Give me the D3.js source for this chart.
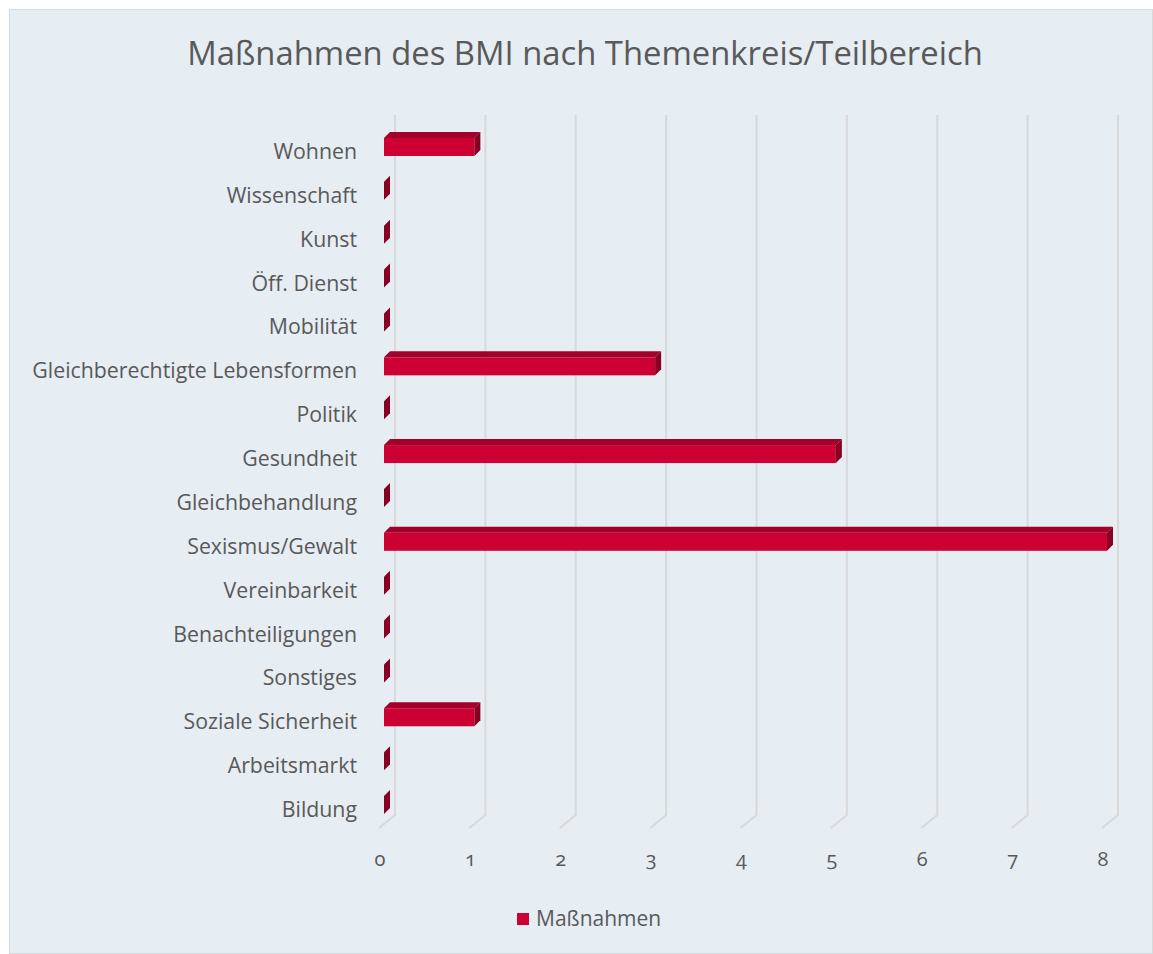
<!DOCTYPE html>
<html>
<head>
<meta charset="utf-8">
<script src="https://cdn.jsdelivr.net/npm/d3@7"></script>
<style>
  body { margin: 0; background: #fff; }
  text { font-family: "Open Sans", sans-serif; fill: #595959; }
  .tick-label { font-variant-numeric: oldstyle-nums; font-feature-settings: "onum" 1; }
</style>
</head>
<body>
<div id="chart"></div>
<script>
var categories = ["Wohnen", "Wissenschaft", "Kunst", "Öff. Dienst", "Mobilität",
    "Gleichberechtigte Lebensformen", "Politik", "Gesundheit", "Gleichbehandlung",
    "Sexismus/Gewalt", "Vereinbarkeit", "Benachteiligungen", "Sonstiges",
    "Soziale Sicherheit", "Arbeitsmarkt", "Bildung"];
var values = [1, 0, 0, 0, 0, 3, 0, 5, 0, 8, 0, 0, 0, 1, 0, 0];
var ticks = [0, 1, 2, 3, 4, 5, 6, 7, 8];
var seriesName = "Maßnahmen";
var title = "Maßnahmen des BMI nach Themenkreis/Teilbereich";

var width = 1153, height = 954;

var svg = d3.select("#chart")
    .append("svg")
    .attr("width", width)
    .attr("height", height);

// chart area background
svg.append("rect")
    .attr("x", 9.5).attr("y", 9.5)
    .attr("width", width - 10).attr("height", height - 10)
    .attr("fill", "#e6edf3")
    .attr("stroke", "#d9d9d9");

svg.append("text")
    .attr("x", 585).attr("y", 65)
    .attr("text-anchor", "middle")
    .style("font-size", "32.8px")
    .text(title);

var x = d3.scaleLinear().domain([0, 8]).range([384, 1107]);
var y = d3.scalePoint().domain(categories).range([147, 805]);

var depth = 6, barH = 18;

// 3d gridlines: back wall + floor diagonal
var grid = svg.append("g").attr("class", "grid");
grid.selectAll("path")
    .data(ticks)
    .enter().append("path")
    .attr("d", function (d) {
        var bx = x(d) + 11;
        return "M" + bx + ",115 L" + bx + ",815 L" + (x(d) - 5) + ",828";
    })
    .attr("fill", "none")
    .attr("stroke", "#d9d9d9")
    .attr("stroke-width", 2);

// tick labels
svg.append("g")
    .selectAll("text")
    .data(ticks)
    .enter().append("text")
    .attr("class", "tick-label")
    .attr("x", function (d) { return x(d) - 4; })
    .attr("y", 866)
    .attr("text-anchor", "middle")
    .style("font-size", "20px")
    .text(function (d) { return d; });

// category labels
svg.append("g")
    .selectAll("text")
    .data(categories)
    .enter().append("text")
    .attr("x", 357)
    .attr("y", function (d) { return y(d) + 12; })
    .attr("text-anchor", "end")
    .style("font-size", "21.3px")
    .text(function (d) { return d; });

// bars
var bars = svg.append("g").attr("class", "bars")
    .selectAll("g")
    .data(categories)
    .enter().append("g");

bars.append("rect")
    .attr("x", x(0))
    .attr("y", function (d) { return y(d) - barH / 2; })
    .attr("width", function (d, i) { return x(values[i]) - x(0); })
    .attr("height", barH)
    .attr("fill", "#cc0033");

bars.append("path")
    .attr("d", function (d, i) {
        var x0 = x(0), x1 = x(values[i]), y0 = y(d) - barH / 2;
        if (values[i] === 0) return "";
        return "M" + x0 + "," + y0 + " L" + (x0 + depth) + "," + (y0 - depth) +
            " L" + (x1 + depth) + "," + (y0 - depth) + " L" + x1 + "," + y0 + "Z";
    })
    .attr("fill", "#a3002b");

bars.append("path")
    .attr("d", function (d, i) {
        var x1 = x(values[i]), y0 = y(d) - barH / 2, y1 = y(d) + barH / 2;
        return "M" + x1 + "," + y0 + " L" + (x1 + depth) + "," + (y0 - depth) +
            " L" + (x1 + depth) + "," + (y1 - depth) + " L" + x1 + "," + y1 + "Z";
    })
    .attr("fill", "#870022");

// legend
var legend = svg.append("g").attr("transform", "translate(517,913)");
legend.append("rect")
    .attr("width", 12).attr("height", 12)
    .attr("fill", "#cc0033");
legend.append("text")
    .attr("x", 19).attr("y", 13)
    .style("font-size", "21px")
    .text(seriesName);
</script>
</body>
</html>
